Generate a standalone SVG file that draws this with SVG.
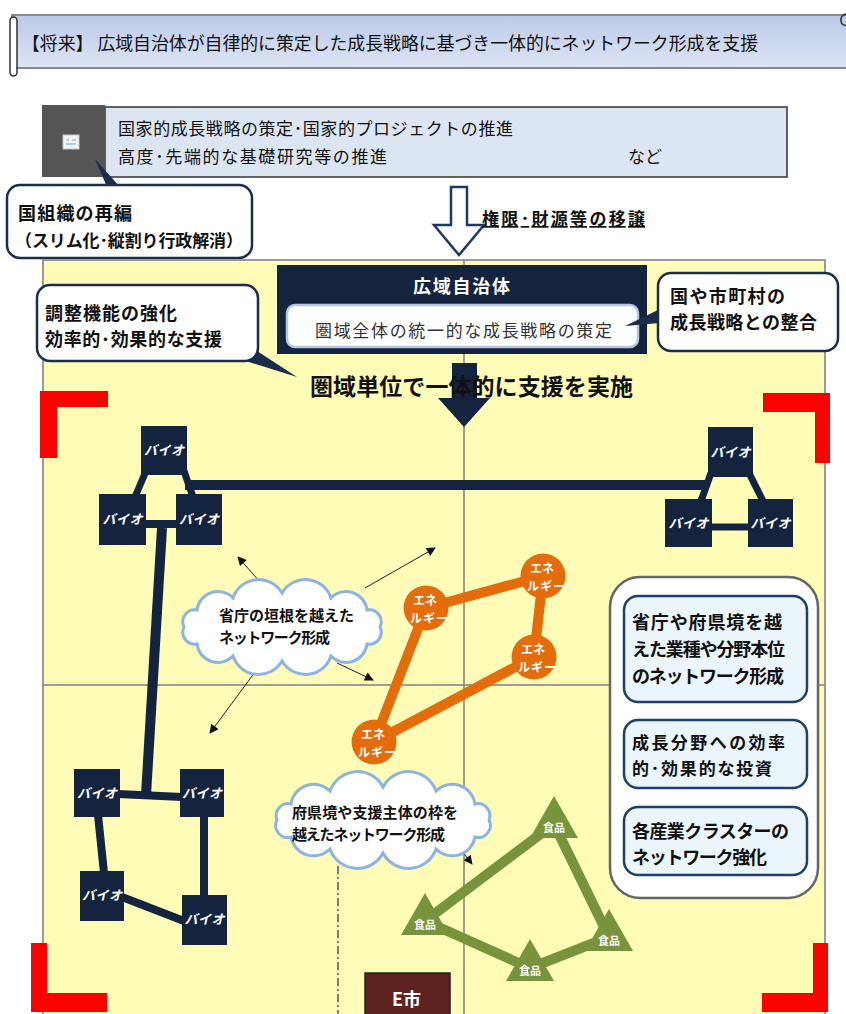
<svg xmlns="http://www.w3.org/2000/svg" width="846" height="1014" viewBox="0 0 846 1014">
<defs>
<linearGradient id="bannerG" x1="0" y1="0" x2="0" y2="1"><stop offset="0" stop-color="#BBCAE8"/><stop offset="1" stop-color="#DDE5F4"/></linearGradient>
<marker id="ah" viewBox="0 0 10 10" refX="9" refY="5" markerWidth="10" markerHeight="9" markerUnits="userSpaceOnUse" orient="auto"><path d="M0,0 L10,5 L0,10 z" fill="#111"/></marker>
<style>
text{font-family:"Noto Sans CJK JP","Liberation Sans",sans-serif;fill:#111}
.b{font-weight:bold}
.w{fill:#fff}
.bio{fill:#14243F}
.bt{font-size:13px;font-weight:bold;font-style:italic;fill:#fff;text-anchor:middle}
.en{fill:#E46C0A}
.et{font-size:12px;font-weight:bold;fill:#fff}
.fd{fill:#77933C}
.ft{font-size:11px;font-weight:bold;fill:#fff;text-anchor:middle}
.nl{stroke:#14243F;fill:none}
.ol{stroke:#E46C0A;stroke-width:10;fill:none}
.gl{stroke:#77933C;stroke-width:10;fill:none}
.thin{stroke:#222;stroke-width:1;fill:none;marker-end:url(#ah)}
.call{fill:#fff;stroke:#1B2D4A;stroke-width:2.5}
.tail{fill:#1B2D4A}
.red{fill:#FF0000}
.cloud{fill:#fff;stroke:#8DB3E2;stroke-width:3}
.ib{fill:#EAF5FC;stroke:#1F3F6E;stroke-width:2.5}
.grid{stroke:#808080;stroke-width:1.5}
</style>
</defs>

<!-- banner -->
<g id="banner">
<rect x="12" y="15" width="840" height="53" fill="url(#bannerG)" stroke="#8A8A8A" stroke-width="2"/>
<rect x="10" y="17" width="7" height="59" rx="3.5" fill="#fff" stroke="#333" stroke-width="1.5"/>
<path d="M846,14 Q840,16 841,21 Q842,26 846,25" fill="none" stroke="#333" stroke-width="1.5"/>
<text x="22" y="50" font-size="18" textLength="736" lengthAdjust="spacingAndGlyphs">【将来】 広域自治体が自律的に策定した成長戦略に基づき一体的にネットワーク形成を支援</text>
</g>

<!-- national box -->
<g id="national">
<rect x="105" y="107" width="682" height="70" fill="#DCE6F2" stroke="#333" stroke-width="1.5"/>
<rect x="42" y="105" width="63" height="72" fill="#555555"/>
<rect x="63" y="135" width="16" height="14" fill="#F2F2F2" stroke="#C8C8C8" stroke-width="1"/>
<path d="M66,140 h3 M72,140 h4 M66,144 h10" stroke="#6AA6D8" stroke-width="1"/>
<text x="118" y="135" font-size="17" textLength="395">国家的成長戦略の策定･国家的プロジェクトの推進</text>
<text x="118" y="163" font-size="17" textLength="269">高度･先端的な基礎研究等の推進</text>
<text x="628" y="163" font-size="17">など</text>
</g>

<g id="callout-reorg">
<polygon class="tail" points="95,159 107,187 120,187"/>
<rect class="call" x="7" y="185" width="245" height="73" rx="13"/>
<text class="b" x="18" y="220" font-size="18" textLength="114">国組織の再編</text>
<text class="b" x="15" y="247" font-size="17" textLength="228">（スリム化･縦割り行政解消）</text>
</g>

<g id="transfer-arrow">
<path d="M451,187 L467,187 L467,225 L484,225 L459,255 L434,225 L451,225 Z" fill="#fff" stroke="#1F3864" stroke-width="2.5" stroke-linejoin="miter"/>
<text class="b" x="482" y="225" font-size="17" textLength="163" text-decoration="underline">権限･財源等の移譲</text>
</g>

<!-- main yellow region -->
<g id="region">
<rect x="43" y="260" width="782" height="770" fill="#FFFCB8" stroke="#9A9A9A" stroke-width="2"/>
<line class="grid" x1="464" y1="260" x2="464" y2="1014"/>
<line class="grid" x1="43" y1="685" x2="825" y2="685"/>
</g>

<g id="brackets">
<path class="red" d="M40,391 H108 V407 H57 V458 H40 Z"/>
<path class="red" d="M763,393 H830 V463 H815 V412 H763 Z"/>
<path class="red" d="M31,943 H47 V993 H107 V1012 H31 Z"/>
<path class="red" d="M813,943 H828 V1012 H762 V993 H813 Z"/>
</g>

<!-- central body -->
<g id="koiki">
<rect x="277" y="265" width="370" height="89" fill="#14243F"/>
<text class="b w" x="413" y="293" font-size="18" textLength="97">広域自治体</text>
<rect x="287" y="305" width="351" height="42" rx="8" fill="#fff" stroke="#B5C7E1" stroke-width="2.5"/>
<text x="315" y="337" font-size="17" textLength="297" style="fill:#333">圏域全体の統一的な成長戦略の策定</text>
</g>

<g id="callout-adjust">
<polygon class="tail" points="297,377 246,361 257,351"/>
<rect class="call" x="37" y="285" width="221" height="76" rx="13"/>
<text class="b" x="45" y="320" font-size="18" textLength="132">調整機能の強化</text>
<text class="b" x="45" y="346" font-size="18" textLength="177">効率的･効果的な支援</text>
</g>

<g id="callout-align">
<polygon class="tail" points="625,326 660,309 660,323"/>
<rect class="call" x="658" y="273" width="180" height="78" rx="13"/>
<text class="b" x="670" y="303" font-size="18" textLength="115">国や市町村の</text>
<text class="b" x="670" y="329" font-size="18" textLength="147">成長戦略との整合</text>
</g>

<g id="support-arrow">
<path d="M452,363 L477,363 L477,398 L490,398 L464,427 L438,398 L452,398 Z" fill="#14243F"/>
<text class="b" x="310" y="395" font-size="23" textLength="323">圏域単位で一体的に支援を実施</text>
</g>

<!-- connectors -->
<g id="connectors">
<line class="nl" x1="185" y1="485" x2="708" y2="485" stroke-width="10"/>
<line class="nl" x1="146" y1="471" x2="135" y2="497" stroke-width="7"/>
<line class="nl" x1="184" y1="471" x2="193" y2="497" stroke-width="7"/>
<line class="nl" x1="140" y1="524" x2="180" y2="524" stroke-width="8"/>
<line class="nl" x1="162" y1="528" x2="146" y2="795" stroke-width="10"/>
<line class="nl" x1="711" y1="473" x2="701" y2="501" stroke-width="7"/>
<line class="nl" x1="749" y1="473" x2="763" y2="501" stroke-width="7"/>
<line class="nl" x1="710" y1="527" x2="750" y2="527" stroke-width="7"/>
<line class="nl" x1="118" y1="794" x2="182" y2="797" stroke-width="8"/>
<line class="nl" x1="98" y1="815" x2="104" y2="873" stroke-width="8"/>
<line class="nl" x1="204" y1="815" x2="204" y2="897" stroke-width="8"/>
<line class="nl" x1="122" y1="897" x2="184" y2="921" stroke-width="8"/>
<line class="ol" x1="426" y1="608" x2="543" y2="576"/>
<line class="ol" x1="543" y1="576" x2="534" y2="657"/>
<line class="ol" x1="534" y1="657" x2="374" y2="742"/>
<line class="ol" x1="426" y1="608" x2="374" y2="742"/>
<line class="gl" x1="554" y1="824" x2="425" y2="921"/>
<line class="gl" x1="554" y1="824" x2="609" y2="937"/>
<line class="gl" x1="425" y1="921" x2="530" y2="968"/>
<line class="gl" x1="530" y1="968" x2="609" y2="937"/>
<line class="thin" x1="260" y1="582" x2="238" y2="557"/>
<line class="thin" x1="365" y1="588" x2="435" y2="548"/>
<line class="thin" x1="337" y1="663" x2="373" y2="680"/>
<line class="thin" x1="258" y1="668" x2="210" y2="733"/>
<line class="thin" x1="462" y1="851" x2="472" y2="864"/>
<line x1="338" y1="866" x2="338" y2="1014" stroke="#555" stroke-width="1.5" stroke-dasharray="8 3 2 3"/>
</g>

<!-- bio nodes -->
<g id="bio-tl-top"><rect class="bio" x="141" y="426" width="46" height="49"/><text class="bt" x="164" y="455" textLength="40">バイオ</text></g>
<g id="bio-tl-left"><rect class="bio" x="99" y="494" width="47" height="51"/><text class="bt" x="122.5" y="524" textLength="40">バイオ</text></g>
<g id="bio-tl-right"><rect class="bio" x="176" y="494" width="46" height="51"/><text class="bt" x="199" y="524" textLength="40">バイオ</text></g>
<g id="bio-tr-top"><rect class="bio" x="708" y="427" width="45" height="50"/><text class="bt" x="730.5" y="457" textLength="40">バイオ</text></g>
<g id="bio-tr-left"><rect class="bio" x="665" y="499" width="47" height="48"/><text class="bt" x="688.5" y="528" textLength="40">バイオ</text></g>
<g id="bio-tr-right"><rect class="bio" x="748" y="499" width="45" height="48"/><text class="bt" x="770.5" y="528" textLength="40">バイオ</text></g>
<g id="bio-bl-a"><rect class="bio" x="74" y="769" width="46" height="48"/><text class="bt" x="97" y="798" textLength="40">バイオ</text></g>
<g id="bio-bl-b"><rect class="bio" x="180" y="769" width="44" height="48"/><text class="bt" x="202" y="798" textLength="40">バイオ</text></g>
<g id="bio-bl-c"><rect class="bio" x="80" y="871" width="44" height="50"/><text class="bt" x="102" y="900" textLength="40">バイオ</text></g>
<g id="bio-bl-d"><rect class="bio" x="182" y="895" width="45" height="50"/><text class="bt" x="204.5" y="924" textLength="40">バイオ</text></g>

<!-- energy nodes -->
<g id="energy-1"><circle class="en" cx="426" cy="608" r="22.5"/><text class="et" x="413" y="605">エネ</text><text class="et" x="410" y="623" textLength="38">ルギー</text></g>
<g id="energy-2"><circle class="en" cx="543" cy="576" r="22.5"/><text class="et" x="530" y="573">エネ</text><text class="et" x="527" y="591" textLength="38">ルギー</text></g>
<g id="energy-3"><circle class="en" cx="534" cy="657" r="22.5"/><text class="et" x="521" y="654">エネ</text><text class="et" x="518" y="672" textLength="38">ルギー</text></g>
<g id="energy-4"><circle class="en" cx="374" cy="742" r="22.5"/><text class="et" x="361" y="739">エネ</text><text class="et" x="358" y="757" textLength="38">ルギー</text></g>

<!-- food nodes -->
<g id="food-1"><polygon class="fd" points="554,796 578,838 530,838"/><text class="ft" x="554" y="832">食品</text></g>
<g id="food-2"><polygon class="fd" points="425,893 449,935 401,935"/><text class="ft" x="425" y="929">食品</text></g>
<g id="food-3"><polygon class="fd" points="609,909 633,951 585,951"/><text class="ft" x="609" y="945">食品</text></g>
<g id="food-4"><polygon class="fd" points="530,939 554,981 506,981"/><text class="ft" x="530" y="975">食品</text></g>

<!-- clouds -->
<g id="cloud-ministry">
<path class="cloud" d="M184,627 A12,12 0 0 1 197,610 A21,21 0 0 1 233,598 A27,27 0 0 1 282,593 A27,27 0 0 1 331,598 A21,21 0 0 1 367,610 A12,12 0 0 1 380,627 A12,12 0 0 1 367,644 A21,21 0 0 1 331,656 A27,27 0 0 1 282,661 A27,27 0 0 1 233,656 A21,21 0 0 1 197,644 A12,12 0 0 1 184,627 Z"/>
<text class="b" x="219" y="621" font-size="15" textLength="135">省庁の垣根を越えた</text>
<text class="b" x="219" y="643" font-size="15" textLength="111">ネットワーク形成</text>
</g>
<g id="cloud-pref">
<path class="cloud" d="M277,820 A12,12 0 0 1 291,804 A23,23 0 0 1 330,791 A29,29 0 0 1 383,787 A29,29 0 0 1 436,791 A23,23 0 0 1 475,804 A12,12 0 0 1 489,820 A12,12 0 0 1 475,837 A23,23 0 0 1 436,849 A29,29 0 0 1 383,853 A29,29 0 0 1 330,849 A23,23 0 0 1 291,837 A12,12 0 0 1 277,820 Z"/>
<text class="b" x="292" y="818" font-size="15" textLength="166">府県境や支援主体の枠を</text>
<text class="b" x="292" y="840" font-size="15" textLength="153">越えたネットワーク形成</text>
</g>

<g id="city-e">
<rect x="365" y="973" width="85" height="50" fill="#5E2220" stroke="#222" stroke-width="1.5"/>
<text class="b w" x="392" y="1006" font-size="18">E市</text>
</g>

<!-- right panel -->
<g id="panel">
<rect x="610" y="577" width="208" height="321" rx="30" fill="#fff" stroke="#666" stroke-width="2.5"/>
</g>
<g id="panel-box-1">
<rect class="ib" x="624" y="596" width="183" height="106" rx="14"/>
<text class="b" x="632" y="629" font-size="18" textLength="150">省庁や府県境を越</text>
<text class="b" x="632" y="656" font-size="18" textLength="153">えた業種や分野本位</text>
<text class="b" x="632" y="683" font-size="18" textLength="152">のネットワーク形成</text>
</g>
<g id="panel-box-2">
<rect class="ib" x="624" y="720" width="183" height="68" rx="14"/>
<text class="b" x="632" y="749" font-size="17" textLength="153">成長分野への効率</text>
<text class="b" x="632" y="775" font-size="17" textLength="140">的･効果的な投資</text>
</g>
<g id="panel-box-3">
<rect class="ib" x="624" y="807" width="183" height="68" rx="14"/>
<text class="b" x="632" y="838" font-size="18" textLength="157">各産業クラスターの</text>
<text class="b" x="632" y="864" font-size="18" textLength="135">ネットワーク強化</text>
</g>
</svg>
